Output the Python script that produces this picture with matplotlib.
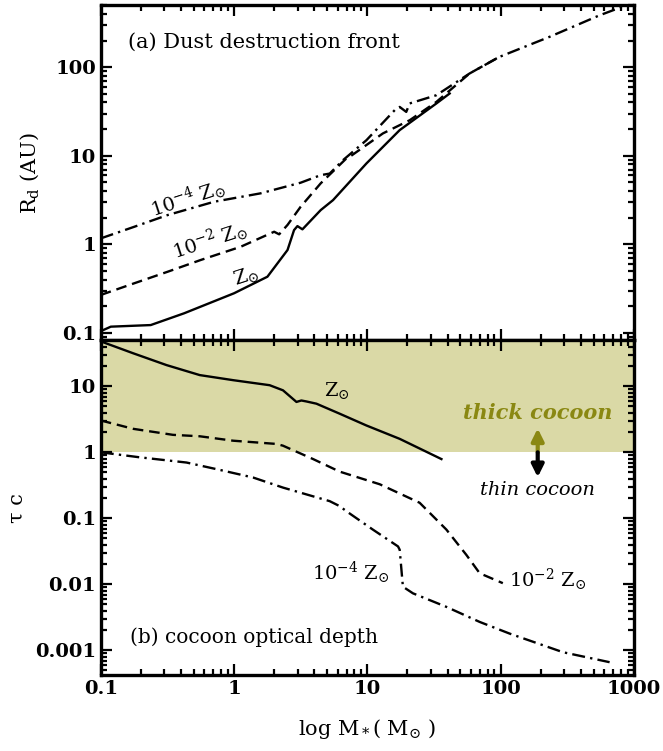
import numpy as np
import matplotlib
matplotlib.use("Agg")
import matplotlib.pyplot as plt

plt.rcParams['font.family'] = ['DejaVu Serif']
plt.rcParams['mathtext.fontset'] = 'dejavuserif'

# (a) dust destruction front R_d [AU] vs M_* [Msun]
rd_sun_m = [0.1, 0.119, 0.237, 0.422, 1.0, 1.78, 2.52, 2.82, 2.99, 3.26, 4.47, 5.53, 9.85, 17.5, 33, 41.5]
rd_sun_r = [0.105, 0.118, 0.123, 0.167, 0.281, 0.432, 0.865, 1.45, 1.61, 1.48, 2.44, 3.16, 8.2, 19.5, 39, 50.5]

rd_m2_m = [0.1, 0.178, 0.318, 0.562, 1.12, 2.0, 2.18, 2.52, 3.16, 4.47, 6.97, 7.38, 13.1, 20.8, 33, 58.6, 98]
rd_m2_r = [0.269, 0.364, 0.492, 0.667, 0.94, 1.39, 1.30, 1.66, 2.66, 4.89, 9.35, 9.75, 17.9, 25.2, 40.6, 85, 131]

rd_m4_m = [0.1, 0.178, 0.316, 0.708, 1.58, 3.16, 4.47, 5.22, 6.58, 9.85, 16.5, 17.5, 19.6, 20.8, 33, 58.6, 98.4, 233, 553, 880]
rd_m4_r = [1.17, 1.58, 2.14, 3.03, 3.77, 4.97, 6.05, 6.3, 8.95, 15.0, 34.2, 35.6, 31.3, 39, 48.3, 85, 131, 220, 385, 500]

# (b) cocoon optical depth tau_c vs M_* [Msun]
tau_sun_m = [0.1, 0.175, 0.311, 0.553, 0.984, 1.85, 2.33, 2.94, 3.2, 3.49, 4.15, 6.2, 9.85, 17.5, 36]
tau_sun_t = [48, 31.7, 21, 14.8, 12.4, 10.4, 8.7, 5.8, 6.1, 5.9, 5.46, 3.85, 2.55, 1.6, 0.79]

tau_m2_m = [0.1, 0.175, 0.348, 0.553, 0.984, 2.08, 2.33, 3.92, 6.2, 12.4, 24.7, 39.2, 55.3, 69.7, 104]
tau_m2_t = [3.04, 2.27, 1.84, 1.75, 1.50, 1.34, 1.26, 0.79, 0.51, 0.328, 0.172, 0.0675, 0.028, 0.0147, 0.0104]

tau_m4_m = [0.1, 0.196, 0.44, 0.738, 1.39, 2.33, 5.22, 6.2, 6.97, 11.0, 17.0, 17.5, 18.5, 22, 39.2, 69.7, 117, 294, 658]
tau_m4_t = [1.0, 0.84, 0.70, 0.556, 0.415, 0.292, 0.182, 0.153, 0.128, 0.0675, 0.0375, 0.0334, 0.0092, 0.0073, 0.00455, 0.00269, 0.00179, 0.000935, 0.00066]

xticks = [0.1, 1, 10, 100, 1000]
xticklabels = ['0.1', '1', '10', '100', '1000']
yticks_a = [0.1, 1, 10, 100]
yticklabels_a = ['0.1', '1', '10', '100']
yticks_b = [0.001, 0.01, 0.1, 1, 10]
yticklabels_b = ['0.001', '0.01', '0.1', '1', '10']

olive = '#8a8812'
lw = 1.7
dash = (0, (4.5, 2.5))
dashdot = (0, (5.5, 2.2, 1.0, 2.2))

fig = plt.figure(figsize=(6.63, 7.51), dpi=100)
ax1 = fig.add_axes([0.152, 0.547, 0.804, 0.446])
ax2 = fig.add_axes([0.152, 0.101, 0.804, 0.446])

for ax in (ax1, ax2):
    ax.set_xscale('log')
    ax.set_yscale('log')
    ax.set_xlim(0.1, 1000)
    for s in ax.spines.values():
        s.set_linewidth(2.4)
    ax.tick_params(which='both', direction='in', top=True, right=True, width=1.6)
    ax.tick_params(which='major', length=8)
    ax.tick_params(which='minor', length=4)
    ax.set_xticks(xticks)
    ax.minorticks_on()

# panel (a)
ax1.plot(rd_sun_m, rd_sun_r, color='black', lw=lw, ls='-')
ax1.plot(rd_m2_m, rd_m2_r, color='black', lw=lw, ls=dash)
ax1.plot(rd_m4_m, rd_m4_r, color='black', lw=lw, ls=dashdot)
ax1.set_ylim(0.083, 500)
ax1.set_yticks(yticks_a)
ax1.set_yticklabels(yticklabels_a, fontsize=14, fontweight='bold')
ax1.set_xticklabels([])
ax1.set_ylabel('R$_\\mathrm{d}$ (AU)', fontsize=15, labelpad=10)
ax1.text(0.16, 190, '(a) Dust destruction front', fontsize=15, va='center')
ax1.text(0.45, 3.3, '10$^{-4}$ Z$_{\\odot}$', fontsize=14, rotation=18, ha='center', va='center')
ax1.text(0.66, 1.1, '10$^{-2}$ Z$_{\\odot}$', fontsize=14, rotation=18, ha='center', va='center')
ax1.text(1.22, 0.44, 'Z$_{\\odot}$', fontsize=14, rotation=18, ha='center', va='center')

# panel (b)
ax2.axhspan(1, 50, color='#dad9a6', lw=0, zorder=0)
ax2.plot(tau_sun_m, tau_sun_t, color='black', lw=lw, ls='-')
ax2.plot(tau_m2_m, tau_m2_t, color='black', lw=lw, ls=dash)
ax2.plot(tau_m4_m, tau_m4_t, color='black', lw=lw, ls=dashdot)
ax2.set_ylim(0.00042, 50)
ax2.set_yticks(yticks_b)
ax2.set_yticklabels(yticklabels_b, fontsize=14, fontweight='bold')
ax2.set_xticklabels(xticklabels, fontsize=14, fontweight='bold')
ax2.set_ylabel('τ c', fontsize=15, labelpad=6)
ax2.set_xlabel('log M$_*$( M$_{\\odot}$ )', fontsize=15, labelpad=14)
ax2.text(0.165, 0.0016, '(b) cocoon optical depth', fontsize=14.5, va='center')
ax2.text(5.9, 8.6, 'Z$_{\\odot}$', fontsize=14, ha='center', va='center')
ax2.text(7.5, 0.0149, '10$^{-4}$ Z$_{\\odot}$', fontsize=14, ha='center', va='center')
ax2.text(225, 0.0116, '10$^{-2}$ Z$_{\\odot}$', fontsize=14, ha='center', va='center')
ax2.text(190, 4.0, 'thick cocoon', fontsize=15, fontweight='bold', fontstyle='italic',
         color=olive, ha='center', va='center')
ax2.text(190, 0.27, 'thin cocoon', fontsize=14, fontstyle='italic', ha='center', va='center')
ax2.annotate('', xy=(190, 2.3), xytext=(190, 1.0),
             arrowprops=dict(arrowstyle='-|>', color=olive, lw=3, mutation_scale=18, shrinkA=0, shrinkB=0))
ax2.annotate('', xy=(190, 0.42), xytext=(190, 1.0),
             arrowprops=dict(arrowstyle='-|>', color='black', lw=3, mutation_scale=18, shrinkA=0, shrinkB=0))

fig.savefig('out.png', dpi=100)
